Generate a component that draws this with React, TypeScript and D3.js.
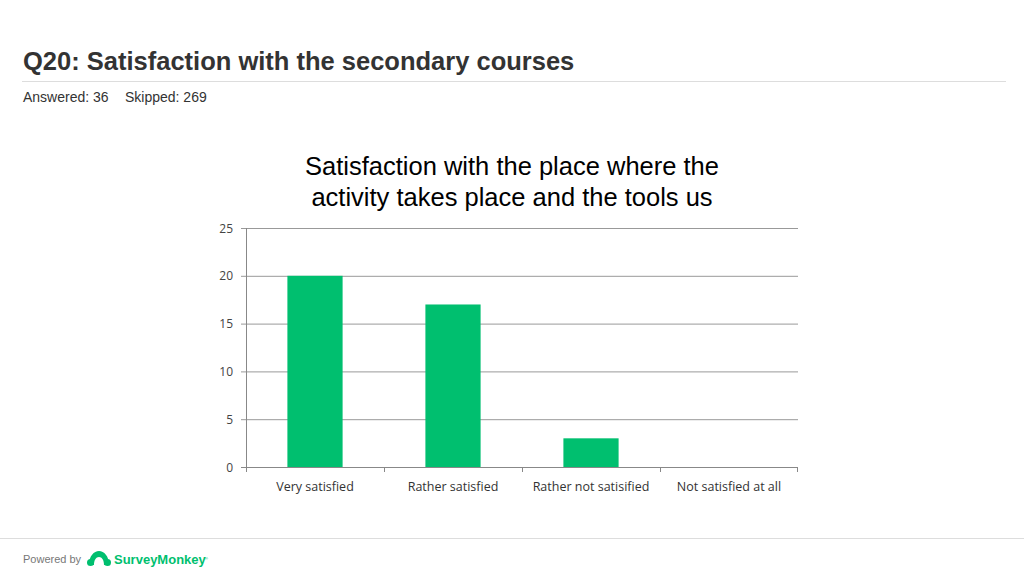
import React from "react";
import * as d3 from "d3";

const categories = ["Very satisfied", "Rather satisfied", "Rather not satisified", "Not satisfied at all"];
const values = [20, 17, 3, 0];
const yTicks = [0, 5, 10, 15, 20, 25];
const titleLines = ["Satisfaction with the place where the", "activity takes place and the tools us"];

export default function App() {
  const W = 1024, H = 576;
  const left = 246, right = 798, top = 228, bottom = 467;
  const x = d3.scaleBand<string>().domain(categories).range([left, right]).paddingInner(0.6).paddingOuter(0.3);
  const xb = d3.scaleBand<string>().domain(categories).range([left, right]);
  const y = d3.scaleLinear().domain([0, 25]).range([bottom, top]);
  const green = "#00BF6F";
  return (
    <svg width={W} height={H} style={{ position: "absolute", left: 0, top: 0 }}>
      <rect width={W} height={H} fill="#fff" />
      <text x={23} y={70} fontFamily="Liberation Sans, Arial" fontWeight="bold" fontSize={25.5} fill="#333">
        Q20: Satisfaction with the secondary courses
      </text>
      <line x1={22} x2={1006} y1={81.5} y2={81.5} stroke="#ddd" />
      <text x={23} y={102} fontFamily="Liberation Sans, Arial" fontSize={14} fill="#333">Answered: 36</text>
      <text x={125} y={102} fontFamily="Liberation Sans, Arial" fontSize={14} fill="#333">Skipped: 269</text>
      {titleLines.map((t, i) => (
        <text key={i} x={512} y={175 + i * 31} textAnchor="middle" fontFamily="Liberation Sans, Arial" fontSize={25.5} fill="#000">{t}</text>
      ))}
      {yTicks.map((t) => (
        <g key={t}>
          <line x1={left - 5} x2={right} y1={y(t) + 0.5} y2={y(t) + 0.5} stroke={t === 0 ? "#888" : "#999"} />
          <text x={233} y={y(t) + 4.5} textAnchor="end" fontFamily="Open Sans, Noto Sans" fontSize={12} fill="#444">{t}</text>
        </g>
      ))}
      <line x1={left + 0.5} x2={left + 0.5} y1={top} y2={bottom} stroke="#888" />
      {categories.map((c) => (
        <line key={c} x1={xb(c)! + 0.5} x2={xb(c)! + 0.5} y1={bottom} y2={bottom + 5} stroke="#888" />
      ))}
      <line x1={right - 0.5} x2={right - 0.5} y1={bottom} y2={bottom + 5} stroke="#888" />
      {categories.map((c, i) => (
        <rect key={c} x={x(c)} y={y(values[i])} width={x.bandwidth()} height={bottom - y(values[i])} fill={green} />
      ))}
      {categories.map((c) => (
        <text key={c} x={xb(c)! + xb.bandwidth() / 2} y={491} textAnchor="middle" fontFamily="Open Sans, Noto Sans" fontSize={12.5} fill="#333">{c}</text>
      ))}
      <line x1={0} x2={W} y1={538.5} y2={538.5} stroke="#ddd" />
      <text x={23} y={563} fontFamily="Liberation Sans, Arial" fontSize={11} fill="#777">Powered by</text>
      <path d="M89,565 C89,556 94,551 99,551 C104,551 109,556 109,565 L104,565 C104,560 102,557 99,557 C96,557 94,560 94,565 Z" fill={green} />
      <circle cx={90.5} cy={562.5} r={3.5} fill={green} />
      <circle cx={107.5} cy={562.5} r={3.5} fill={green} />
      <text x={114} y={564} fontFamily="Liberation Sans, Arial" fontWeight="bold" fontSize={13} fill={green}>SurveyMonkey</text>
      <text x={205} y={560} fontFamily="Liberation Sans, Arial" fontSize={4} fill={green}>®</text>
    </svg>
  );
}
